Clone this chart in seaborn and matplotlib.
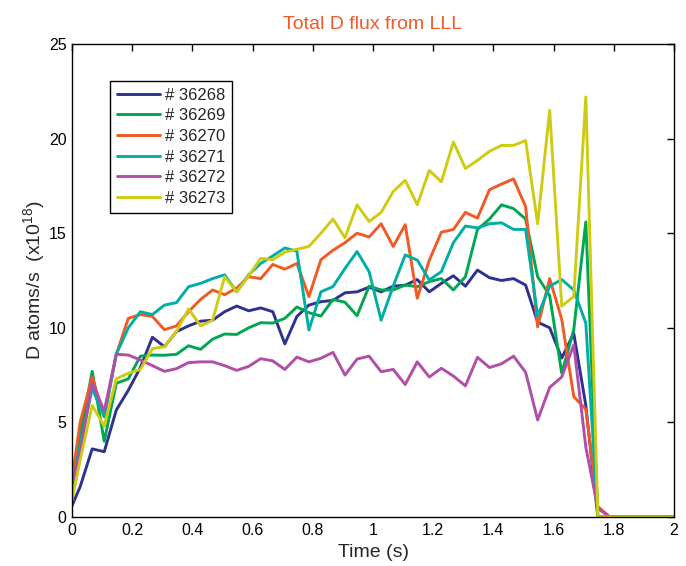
import numpy as np
import pandas as pd
import matplotlib
matplotlib.use("Agg")
import matplotlib.pyplot as plt
import seaborn as sns
from matplotlib.ticker import FormatStrFormatter

# time samples (s)
time_s = [0, 0.027, 0.067, 0.107, 0.147, 0.187, 0.227, 0.267, 0.307, 0.347,
          0.387, 0.427, 0.467, 0.507, 0.547, 0.587, 0.627, 0.667, 0.707, 0.747,
          0.787, 0.827, 0.867, 0.907, 0.947, 0.987, 1.027, 1.067, 1.107, 1.147,
          1.187, 1.227, 1.267, 1.307, 1.347, 1.387, 1.427, 1.467, 1.507, 1.547,
          1.587, 1.627, 1.667, 1.707, 1.747, 1.787, 2.0]

shot_36268 = [0.6, 1.6, 3.6, 3.45, 5.65, 6.7, 7.9, 9.5, 9.0, 9.8,
              10.1, 10.35, 10.4, 10.85, 11.15, 10.9, 11.05, 10.85, 9.15, 10.6,
              11.2, 11.38, 11.45, 11.85, 11.9, 12.15, 11.9, 12.2, 12.25, 12.55,
              11.9, 12.35, 12.75, 12.2, 13.05, 12.65, 12.5, 12.6, 12.26, 10.3,
              10.0, 8.4, 9.7, 5.9, 0, 0, 0]
shot_36269 = [1.5, 4.3, 7.7, 4.0, 7.07, 7.3, 8.5, 8.56, 8.55, 8.6,
              9.05, 8.86, 9.4, 9.67, 9.65, 10.0, 10.27, 10.25, 10.5, 11.1,
              10.8, 10.62, 11.5, 11.35, 10.64, 12.2, 12.0, 12.0, 12.26, 12.17,
              12.44, 12.6, 12.0, 12.7, 15.2, 15.75, 16.5, 16.3, 15.75, 12.7,
              11.7, 7.6, 9.9, 15.6, 0, 0, 0]
shot_36270 = [2.0, 5.0, 7.4, 5.3, 8.6, 10.5, 10.7, 10.6, 9.9, 10.1,
              10.85, 11.5, 12.0, 11.75, 12.1, 12.7, 12.6, 13.35, 13.1, 13.4,
              11.65, 13.6, 14.1, 14.5, 15.0, 14.8, 15.5, 14.3, 15.45, 11.56,
              13.57, 15.05, 15.2, 16.1, 15.8, 17.3, 17.6, 17.87, 16.4, 10.05,
              12.6, 10.45, 6.36, 5.7, 0.55, 0, 0]
shot_36271 = [1.5, 3.8, 6.8, 5.3, 8.6, 10.0, 10.85, 10.7, 11.2, 11.33,
              12.17, 12.35, 12.6, 12.8, 11.9, 12.8, 13.4, 13.8, 14.22, 14.05,
              9.88, 11.9, 12.18, 13.14, 14.03, 12.97, 10.4, 12.2, 13.85, 13.58,
              12.53, 12.97, 14.5, 15.38, 15.28, 15.5, 15.55, 15.2, 15.2, 10.62,
              12.2, 12.55, 12.0, 10.25, 0, 0, 0]
shot_36272 = [1.8, 3.4, 7.1, 5.6, 8.6, 8.56, 8.3, 8.0, 7.7, 7.84,
              8.16, 8.2, 8.2, 8.0, 7.75, 7.96, 8.37, 8.25, 7.8, 8.45,
              8.2, 8.39, 8.7, 7.5, 8.35, 8.5, 7.68, 7.8, 7.0, 8.2,
              7.4, 7.86, 7.45, 6.93, 8.44, 7.9, 8.1, 8.5, 7.65, 5.13,
              6.85, 7.4, 9.1, 3.7, 0.45, 0, 0]
shot_36273 = [0.9, 3.0, 5.9, 4.8, 7.3, 7.6, 7.8, 8.9, 9.0, 9.8,
              11.0, 10.1, 10.4, 12.7, 11.9, 12.75, 13.67, 13.6, 14.0, 14.15,
              14.3, 15.0, 15.75, 14.76, 16.5, 15.62, 16.1, 17.2, 17.8, 16.5,
              18.32, 17.72, 19.82, 18.42, 18.85, 19.33, 19.64, 19.64, 19.9, 15.5,
              21.5, 11.15, 11.65, 22.2, 0, 0, 0]

shot_labels = ["# 36268", "# 36269", "# 36270", "# 36271", "# 36272", "# 36273"]
shot_colors = ["#2e3192", "#00a651", "#f15a24", "#00aea6", "#b04ea8", "#cfcb12"]

series = [shot_36268, shot_36269, shot_36270, shot_36271, shot_36272, shot_36273]
frames = []
for lab, vals in zip(shot_labels, series):
    frames.append(pd.DataFrame({"time": time_s, "flux": vals, "shot": lab}))
df = pd.concat(frames, ignore_index=True)

sns.set_style("white")
plt.rcParams["font.family"] = ["Liberation Sans", "DejaVu Sans"]
plt.rcParams["mathtext.default"] = "regular"

fig = plt.figure(figsize=(6.86, 5.66), dpi=100)
ax = fig.add_axes([0.105, 0.0866, 0.8775, 0.8356])

sns.lineplot(data=df, x="time", y="flux", hue="shot", hue_order=shot_labels,
             palette=shot_colors, linewidth=2.1, estimator=None, sort=False, ax=ax)

ax.set_xlim(0, 2)
ax.set_ylim(0, 25)
ax.set_xticks(np.arange(0, 2.01, 0.2))
ax.set_yticks(np.arange(0, 26, 5))
ax.xaxis.set_major_formatter(FormatStrFormatter("%g"))
ax.tick_params(direction="in", length=5, width=1, top=True, right=True,
               labelsize=11.5, colors="black", pad=4)
for s in ax.spines.values():
    s.set_color("black")
    s.set_linewidth(1)

ax.set_xlabel("Time (s)", fontsize=14, labelpad=5)
ax.set_ylabel("D atoms/s  (x10$^{18}$)", fontsize=14, labelpad=1)
ax.set_title("Total D flux from LLL", color="#f05a28", fontsize=14, pad=11)

handles, labels = ax.get_legend_handles_labels()
leg = ax.legend(handles, labels, loc="upper left", bbox_to_anchor=(0.063, 0.922),
                fontsize=12, frameon=True, fancybox=False, framealpha=1,
                edgecolor="black", handlelength=2.6, handletextpad=0.3,
                labelspacing=0.34, borderpad=0.4, borderaxespad=0)
leg.get_frame().set_linewidth(1)

fig.savefig("out.png", dpi=100)
